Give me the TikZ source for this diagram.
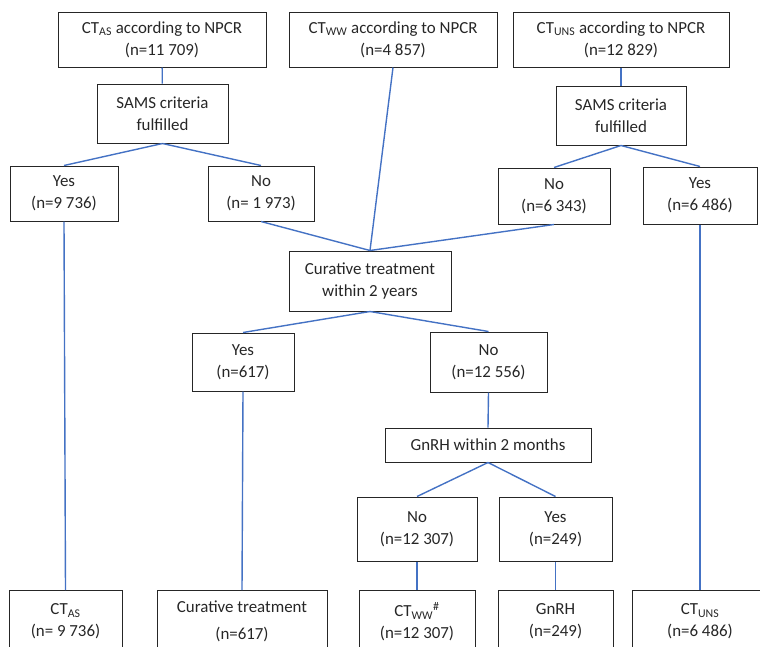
\documentclass[tikz,border=0pt]{standalone}
\usepackage{fontspec}
\setmainfont{Carlito}
\definecolor{linkblue}{RGB}{68,114,196}
\definecolor{boxtext}{RGB}{38,38,38}
\tikzset{
  box/.style={draw=black!85, line width=1pt, align=center, inner sep=0pt,
    text=boxtext, font=\fontsize{16.9}{22}\selectfont},
  link/.style={draw=linkblue, line width=1.4pt}
}
\begin{document}
\begin{tikzpicture}[x=1pt,y=-1pt]
\useasboundingbox (0,0) rectangle (760,646);
\clip (0,0) rectangle (760,646);
\node[box, minimum width=208pt, minimum height=55pt] (ctas) at (162,39.5) {CT\textsubscript{AS} according to NPCR\\(n=11 709)};
\node[box, minimum width=208pt, minimum height=55pt] (ctww) at (393,39.5) {CT\textsubscript{WW} according to NPCR\\(n=4 857)};
\node[box, minimum width=216pt, minimum height=55pt] (ctuns) at (621,39.5) {CT\textsubscript{UNS} according to NPCR\\(n=12 829)};
\node[box, minimum width=131pt, minimum height=59pt] (samsl) at (162.5,113.5) {SAMS criteria\\fulfilled};
\node[box, minimum width=130pt, minimum height=59pt] (samsr) at (621,115.5) {SAMS criteria\\fulfilled};
\node[box, minimum width=108pt, minimum height=55pt] (yesl) at (64,193.5) {Yes\\(n=9 736)};
\node[box, minimum width=106pt, minimum height=55pt] (nol) at (261,193.5) {No\\(n= 1 973)};
\node[box, minimum width=112pt, minimum height=56pt] (nor) at (554,196) {No\\(n=6 343)};
\node[box, minimum width=114pt, minimum height=57pt] (yesr) at (700,195.5) {Yes\\(n=6 486)};
\node[box, minimum width=162pt, minimum height=60pt] (cure) at (370,281) {Curative treatment\\within 2 years};
\node[box, minimum width=102pt, minimum height=58pt] (yesc) at (243,362) {Yes\\(n=617)};
\node[box, minimum width=117pt, minimum height=60pt] (noc) at (488.5,362) {No\\(n=12 556)};
\node[box, minimum width=206pt, minimum height=34pt] (gnrh) at (488,445) {GnRH within 2 months};
\node[box, minimum width=120pt, minimum height=64pt] (nog) at (417,529) {No\\(n=12 307)};
\node[box, minimum width=113pt, minimum height=64pt] (yesg) at (555.5,529) {Yes\\(n=249)};
\node[box, anchor=north, minimum width=113pt, minimum height=62pt] (fas) at (65.5,590) {CT\textsubscript{AS}\\(n= 9 736)};
\node[box, anchor=north, minimum width=170pt, minimum height=62pt] (fcure) at (242,590) {Curative treatment\\[5pt](n=617)};
\node[box, anchor=north, minimum width=116pt, minimum height=62pt] (fww) at (417,590) {CT\textsubscript{WW}\textsuperscript{\#}\\(n=12 307)};
\node[box, anchor=north, minimum width=115pt, minimum height=62pt] (fgn) at (555.5,590) {GnRH\\(n=249)};
\node[box, anchor=north, minimum width=136pt, minimum height=62pt] (funs) at (700,590) {CT\textsubscript{UNS}\\(n=6 486)};
\draw[link] (ctas) -- (samsl);
\draw[link] (samsl.south) -- (yesl.north);
\draw[link] (samsl.south) -- (nol.north);
\draw[link] (yesl.south) -- (fas.north);
\draw[link] (ctuns) -- (samsr);
\draw[link] (samsr.south) -- (nor.north);
\draw[link] (samsr.south) -- (yesr.north);
\draw[link] (yesr.south) -- (funs.north);
\draw[link] (nol.south) -- (cure.north);
\draw[link] (ctww.south) -- (cure.north);
\draw[link] (nor.south) -- (cure.north);
\draw[link] (cure.south) -- (yesc.north);
\draw[link] (cure.south) -- (noc.north);
\draw[link] (yesc.south) -- (fcure.north);
\draw[link] (noc.south) -- (gnrh.north);
\draw[link] (gnrh.south) -- (nog.north);
\draw[link] (gnrh.south) -- (yesg.north);
\draw[link] (nog) -- (fww);
\draw[link] (yesg) -- (fgn);
\end{tikzpicture}
\end{document}
